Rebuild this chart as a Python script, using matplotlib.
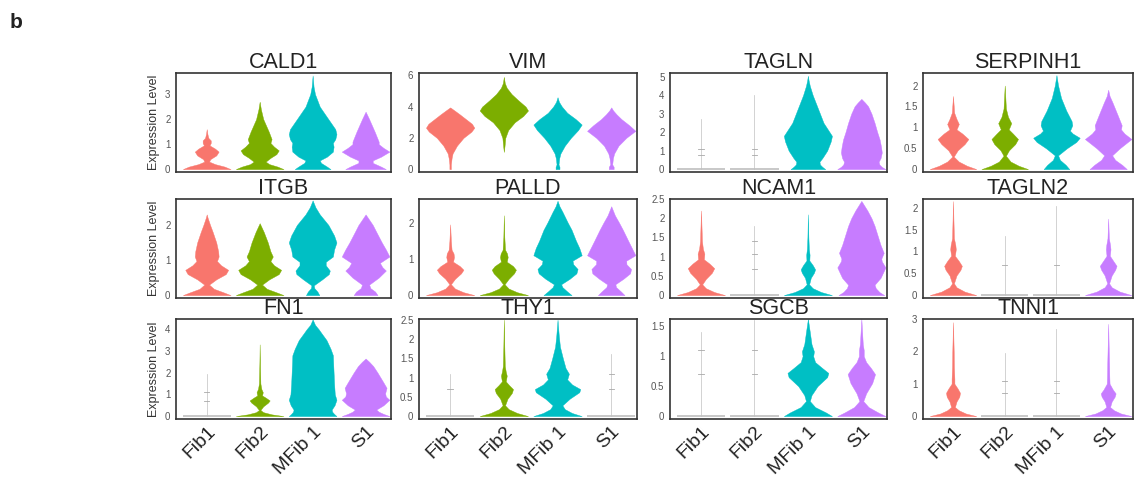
import matplotlib.pyplot as plt
import numpy as np

plt.rcParams["font.family"] = ["Liberation Sans", "DejaVu Sans"]

GROUPS = ["Fib1", "Fib2", "MFib 1", "S1"]
COLORS = ["#F8766D", "#7CAE00", "#00BFC4", "#C77CFF"]

GENES = ["CALD1", "VIM", "TAGLN", "SERPINH1",
         "ITGB", "PALLD", "NCAM1", "TAGLN2",
         "FN1", "THY1", "SGCB", "TNNI1"]
Y_TOP = [3.85, 6.15, 5.2, 2.3,
         2.74, 2.65, 2.5, 2.2,
         4.47, 2.52, 1.62, 2.98]
Y_TICKS = [[0, 1, 2, 3], [0, 2, 4, 6], [0, 1, 2, 3, 4, 5], [0, 0.5, 1, 1.5, 2],
           [0, 1, 2], [0, 1, 2], [0, 0.5, 1, 1.5, 2, 2.5], [0, 0.5, 1, 1.5, 2],
           [0, 1, 2, 3, 4], [0, 0.5, 1, 1.5, 2, 2.5], [0, 0.5, 1, 1.5], [0, 1, 2, 3]]

# violin outlines: (expression level, relative half width)
# groups with almost no expression: only the top of the range and the small ticks
CALD1 = [
    [(0, 1.0), (0.1, 0.75), (0.2, 0.35), (0.3, 0.1), (0.4, 0.15), (0.55, 0.4), (0.7, 0.5), (0.82, 0.35),
     (0.95, 0.12), (1.05, 0.17), (1.15, 0.17), (1.25, 0.07), (1.4, 0.03), (1.6, 0)],
    [(0, 1.0), (0.1, 0.75), (0.2, 0.4), (0.3, 0.25), (0.45, 0.45), (0.6, 0.7), (0.75, 0.8), (0.9, 0.6),
     (1.05, 0.45), (1.2, 0.5), (1.5, 0.38), (2.0, 0.15), (2.4, 0.05), (2.7, 0)],
    [(0, 0.75), (0.1, 0.6), (0.25, 0.35), (0.35, 0.3), (0.5, 0.6), (0.7, 0.85), (0.9, 0.88), (1.05, 0.85),
     (1.2, 0.95), (1.4, 1.0), (1.6, 0.95), (2.0, 0.66), (2.5, 0.3), (3.0, 0.1), (3.3, 0.04), (3.75, 0)],
    [(0, 0.85), (0.1, 0.65), (0.25, 0.3), (0.35, 0.3), (0.5, 0.65), (0.7, 1.0), (0.85, 0.75), (1.0, 0.55),
     (1.1, 0.55), (1.5, 0.38), (2.0, 0.15), (2.3, 0)],
]
VIM = [
    [(0, 0.03), (0.3, 0.03), (0.7, 0.06), (1.0, 0.1), (1.5, 0.28), (2.0, 0.55), (2.4, 0.88), (2.65, 1.0),
     (2.9, 0.9), (3.2, 0.65), (3.5, 0.4), (3.75, 0.18), (3.95, 0)],
    [(1.1, 0), (1.5, 0.03), (2.0, 0.06), (2.5, 0.18), (3.0, 0.45), (3.4, 0.8), (3.75, 1.0), (4.0, 0.9),
     (4.4, 0.6), (4.8, 0.32), (5.2, 0.12), (5.5, 0.04), (5.9, 0)],
    [(0, 0.08), (0.15, 0.08), (0.3, 0.04), (0.7, 0.07), (1.0, 0.12), (1.5, 0.3), (2.0, 0.55), (2.5, 0.85),
     (2.85, 1.0), (3.2, 0.75), (3.6, 0.4), (4.0, 0.18), (4.3, 0.06), (4.6, 0)],
    [(0, 0.1), (0.15, 0.1), (0.3, 0.04), (0.7, 0.07), (1.0, 0.12), (1.5, 0.3), (2.0, 0.62), (2.45, 1.0),
     (2.8, 0.75), (3.2, 0.42), (3.5, 0.22), (3.75, 0.08), (3.95, 0)],
]
TAGLN = [
    {"max": 2.7, "ticks": [0.75, 1.1]},
    {"max": 4.0, "ticks": [0.75, 1.1]},
    [(0, 0.72), (0.12, 0.6), (0.25, 0.5), (0.4, 0.48), (0.6, 0.6), (1.0, 0.8), (1.5, 0.95), (1.8, 1.0),
     (2.0, 0.9), (2.5, 0.65), (3.0, 0.5), (3.5, 0.35), (4.0, 0.2), (4.5, 0.08), (4.8, 0.03), (5.05, 0)],
    [(0, 1.0), (0.12, 0.85), (0.25, 0.75), (0.4, 0.72), (0.6, 0.8), (0.9, 0.85), (1.2, 0.82), (1.6, 0.76),
     (2.0, 0.66), (2.5, 0.55), (3.0, 0.42), (3.4, 0.28), (3.6, 0.15), (3.8, 0)],
]
SERPINH1 = [
    [(0, 1.0), (0.08, 0.6), (0.18, 0.25), (0.3, 0.03), (0.45, 0.2), (0.6, 0.5), (0.72, 0.66), (0.85, 0.4),
     (0.95, 0.15), (1.08, 0.25), (1.2, 0.15), (1.35, 0.05), (1.75, 0)],
    [(0, 1.0), (0.08, 0.6), (0.18, 0.25), (0.32, 0.05), (0.45, 0.18), (0.6, 0.45), (0.72, 0.57), (0.85, 0.35),
     (0.95, 0.17), (1.1, 0.28), (1.25, 0.14), (1.45, 0.05), (2.0, 0)],
    [(0, 0.55), (0.1, 0.4), (0.22, 0.15), (0.33, 0.07), (0.5, 0.45), (0.65, 0.85), (0.75, 1.0), (0.85, 0.7),
     (0.92, 0.58), (1.05, 0.68), (1.15, 0.65), (1.4, 0.42), (1.7, 0.2), (2.0, 0.07), (2.25, 0)],
    [(0, 0.8), (0.1, 0.6), (0.22, 0.3), (0.33, 0.17), (0.5, 0.5), (0.72, 1.0), (0.85, 0.7), (0.95, 0.55),
     (1.05, 0.58), (1.3, 0.4), (1.6, 0.18), (1.75, 0.06), (1.9, 0)],
]
ITGB = [
    [(0, 1.0), (0.08, 0.7), (0.18, 0.3), (0.3, 0.1), (0.45, 0.4), (0.6, 0.8), (0.72, 0.9), (0.85, 0.6),
     (0.97, 0.43), (1.1, 0.5), (1.25, 0.48), (1.5, 0.4), (1.8, 0.25), (2.0, 0.14), (2.2, 0.04), (2.3, 0)],
    [(0, 1.0), (0.08, 0.7), (0.18, 0.3), (0.3, 0.1), (0.45, 0.4), (0.6, 0.8), (0.72, 0.9), (0.85, 0.6),
     (0.97, 0.45), (1.1, 0.55), (1.25, 0.45), (1.5, 0.34), (1.8, 0.17), (2.05, 0)],
    [(0, 0.28), (0.1, 0.2), (0.2, 0.07), (0.28, 0.05), (0.45, 0.4), (0.6, 0.68), (0.7, 0.72), (0.85, 0.55),
     (0.95, 0.55), (1.1, 0.85), (1.3, 0.9), (1.5, 1.0), (1.7, 0.9), (2.0, 0.66), (2.3, 0.3), (2.5, 0.12),
     (2.7, 0)],
    [(0, 0.5), (0.1, 0.4), (0.2, 0.2), (0.3, 0.15), (0.5, 0.55), (0.7, 0.85), (0.8, 0.7), (0.92, 0.6),
     (1.1, 1.0), (1.3, 0.85), (1.5, 0.68), (1.8, 0.45), (2.0, 0.3), (2.2, 0.1), (2.3, 0)],
]
PALLD = [
    [(0, 1.0), (0.08, 0.55), (0.18, 0.2), (0.3, 0.03), (0.45, 0.2), (0.6, 0.45), (0.7, 0.55), (0.8, 0.4),
     (0.92, 0.12), (1.05, 0.16), (1.15, 0.14), (1.25, 0.06), (1.5, 0.03), (1.95, 0)],
    [(0, 1.0), (0.08, 0.55), (0.18, 0.2), (0.3, 0.03), (0.45, 0.2), (0.6, 0.42), (0.7, 0.5), (0.8, 0.38),
     (0.92, 0.12), (1.05, 0.16), (1.15, 0.13), (1.25, 0.05), (1.6, 0.02), (2.2, 0)],
    [(0, 0.58), (0.1, 0.4), (0.22, 0.2), (0.3, 0.15), (0.45, 0.5), (0.6, 0.78), (0.72, 0.83), (0.85, 0.65),
     (0.95, 0.62), (1.1, 1.0), (1.3, 0.9), (1.5, 0.76), (1.8, 0.58), (2.0, 0.42), (2.3, 0.2), (2.45, 0.08),
     (2.6, 0)],
    [(0, 0.55), (0.1, 0.4), (0.22, 0.2), (0.3, 0.17), (0.45, 0.5), (0.6, 0.78), (0.72, 0.82), (0.85, 0.63),
     (0.95, 0.62), (1.1, 1.0), (1.3, 0.85), (1.5, 0.7), (1.8, 0.48), (2.0, 0.32), (2.2, 0.15), (2.45, 0)],
]
NCAM1 = [
    [(0, 1.0), (0.08, 0.55), (0.18, 0.2), (0.28, 0.05), (0.42, 0.2), (0.58, 0.45), (0.7, 0.55), (0.82, 0.35),
     (0.93, 0.12), (1.08, 0.14), (1.2, 0.08), (1.4, 0.04), (1.8, 0.02), (2.2, 0)],
    {"max": 1.8, "ticks": [0.67, 1.08, 1.42]},
    [(0, 1.0), (0.08, 0.55), (0.18, 0.2), (0.28, 0.05), (0.45, 0.12), (0.58, 0.25), (0.67, 0.3), (0.78, 0.2),
     (0.9, 0.06), (1.05, 0.07), (1.2, 0.04), (1.5, 0.02), (2.1, 0)],
    [(0, 0.95), (0.08, 0.75), (0.18, 0.6), (0.27, 0.55), (0.45, 0.8), (0.72, 1.0), (0.88, 0.85), (0.95, 0.83),
     (1.1, 0.93), (1.3, 0.8), (1.5, 0.7), (1.8, 0.55), (2.0, 0.42), (2.2, 0.25), (2.35, 0.1), (2.45, 0)],
]
TAGLN2 = [
    [(0, 1.0), (0.08, 0.5), (0.18, 0.15), (0.27, 0.04), (0.45, 0.15), (0.58, 0.32), (0.67, 0.38), (0.78, 0.25),
     (0.9, 0.08), (1.05, 0.12), (1.15, 0.1), (1.3, 0.04), (1.7, 0.02), (2.15, 0)],
    {"max": 1.35, "ticks": [0.7]},
    {"max": 2.05, "ticks": [0.7]},
    [(0, 1.0), (0.08, 0.5), (0.18, 0.15), (0.27, 0.04), (0.45, 0.15), (0.58, 0.3), (0.67, 0.36), (0.78, 0.22),
     (0.9, 0.07), (1.05, 0.1), (1.15, 0.08), (1.3, 0.03), (1.75, 0)],
]
FN1 = [
    {"max": 1.95, "ticks": [0.7, 1.1]},
    [(0, 1.0), (0.08, 0.5), (0.18, 0.15), (0.28, 0.03), (0.45, 0.15), (0.62, 0.35), (0.72, 0.42), (0.85, 0.25),
     (0.95, 0.1), (1.1, 0.13), (1.25, 0.07), (1.5, 0.03), (2.5, 0.01), (3.3, 0)],
    [(0, 1.0), (0.1, 0.9), (0.2, 0.82), (0.3, 0.8), (0.5, 0.92), (0.75, 1.0), (1.0, 0.93), (1.5, 0.9),
     (2.0, 0.88), (2.5, 0.86), (2.8, 0.85), (3.1, 0.75), (3.5, 0.58), (3.8, 0.38), (4.0, 0.25), (4.2, 0.1),
     (4.45, 0)],
    [(0, 1.0), (0.1, 0.75), (0.2, 0.55), (0.3, 0.45), (0.5, 0.75), (0.75, 1.0), (0.9, 0.85), (1.05, 0.82),
     (1.3, 0.88), (1.6, 0.72), (2.0, 0.5), (2.3, 0.32), (2.5, 0.15), (2.65, 0)],
]
THY1 = [
    {"max": 1.1, "ticks": [0.7]},
    [(0, 1.0), (0.08, 0.55), (0.18, 0.2), (0.28, 0.05), (0.45, 0.15), (0.6, 0.33), (0.7, 0.38), (0.8, 0.22),
     (0.9, 0.08), (1.05, 0.12), (1.15, 0.08), (1.3, 0.04), (1.8, 0.02), (2.5, 0)],
    [(0, 1.0), (0.08, 0.6), (0.18, 0.3), (0.28, 0.2), (0.45, 0.5), (0.62, 0.9), (0.7, 0.94), (0.82, 0.6),
     (0.95, 0.4), (1.1, 0.47), (1.25, 0.33), (1.5, 0.22), (1.8, 0.1), (2.1, 0.05), (2.5, 0)],
    {"max": 1.6, "ticks": [0.7, 1.1]},
]
SGCB = [
    {"max": 1.4, "ticks": [0.7, 1.1]},
    {"max": 1.6, "ticks": [0.7, 1.1]},
    [(0, 1.0), (0.06, 0.75), (0.15, 0.3), (0.25, 0.08), (0.35, 0.15), (0.5, 0.4), (0.65, 0.8), (0.72, 0.85),
     (0.8, 0.6), (0.9, 0.3), (1.0, 0.22), (1.08, 0.25), (1.2, 0.15), (1.4, 0.08), (1.62, 0)],
    [(0, 1.0), (0.06, 0.7), (0.15, 0.3), (0.25, 0.08), (0.38, 0.2), (0.55, 0.45), (0.7, 0.57), (0.8, 0.4),
     (0.9, 0.2), (1.0, 0.1), (1.1, 0.1), (1.2, 0.06), (1.62, 0)],
]
TNNI1 = [
    [(0, 1.0), (0.08, 0.55), (0.18, 0.25), (0.28, 0.08), (0.45, 0.15), (0.6, 0.27), (0.72, 0.3), (0.85, 0.2),
     (1.0, 0.06), (1.15, 0.06), (1.5, 0.04), (2.0, 0.03), (2.9, 0)],
    {"max": 1.95, "ticks": [0.7, 1.1]},
    {"max": 2.7, "ticks": [0.7, 1.1]},
    [(0, 1.0), (0.08, 0.55), (0.18, 0.25), (0.28, 0.08), (0.45, 0.15), (0.6, 0.28), (0.7, 0.32), (0.82, 0.2),
     (1.0, 0.06), (1.2, 0.05), (1.6, 0.04), (2.2, 0.02), (2.85, 0)],
]
PROFILES = [CALD1, VIM, TAGLN, SERPINH1, ITGB, PALLD, NCAM1, TAGLN2, FN1, THY1, SGCB, TNNI1]

HALF = 0.45
FIG_W, FIG_H = 1135, 480
COL_X = [(176, 391), (419, 637), (670, 887), (923, 1133)]
ROW_Y = [(73, 172), (199, 298), (319, 419)]


def draw_violin(ax, pos, prof, color):
    if isinstance(prof, dict):
        ax.plot([pos - HALF, pos + HALF], [0, 0], color="#c8c8c8", lw=1.4, solid_capstyle="butt")
        ax.plot([pos, pos], [0, prof["max"]], color="#c0c0c0", lw=0.5)
        for t in prof["ticks"]:
            ax.plot([pos - 0.05, pos + 0.05], [t, t], color="#a8a8a8", lw=0.6)
        return
    y = np.array([p[0] for p in prof])
    w = np.array([p[1] for p in prof]) * HALF
    ax.fill_betweenx(y, pos - w, pos + w, color=color, lw=0.3)


fig = plt.figure(figsize=(FIG_W / 100, FIG_H / 100), dpi=100)
fig.text(10 / FIG_W, 1 - 22 / FIG_H, "b", fontsize=15, fontweight="bold", color="#222222",
         ha="left", va="center")

for i, gene in enumerate(GENES):
    r, c = divmod(i, 4)
    x0, x1 = COL_X[c]
    y0, y1 = ROW_Y[r]
    ax = fig.add_axes([x0 / FIG_W, 1 - y1 / FIG_H, (x1 - x0) / FIG_W, (y1 - y0) / FIG_H])
    for k, prof in enumerate(PROFILES[i]):
        draw_violin(ax, k + 1, prof, COLORS[k])
    top = Y_TOP[i]
    ax.set_ylim(-0.03 * top, top)
    ax.set_xlim(0.42, 4.48)
    ax.set_yticks(Y_TICKS[i])
    ax.set_yticklabels([f"{t:g}" for t in Y_TICKS[i]])
    ax.tick_params(axis="y", length=0, labelsize=7, labelcolor="#555555", pad=4)
    ax.set_xticks(range(1, 5))
    if r == 2:
        ax.set_xticklabels(GROUPS, rotation=45, ha="right", rotation_mode="anchor",
                           fontsize=14, color="#222222")
        ax.tick_params(axis="x", length=0, pad=3)
    else:
        ax.set_xticklabels([])
        ax.tick_params(axis="x", length=0)
    for s in ax.spines.values():
        s.set_color("#333333")
        s.set_linewidth(1.2)
    ax.set_title(gene, fontsize=15.5, color="#222222", pad=2)
    if c == 0:
        ax.set_ylabel("Expression Level", fontsize=9, color="#333333", labelpad=4)

fig.savefig("out.png", dpi=100)
